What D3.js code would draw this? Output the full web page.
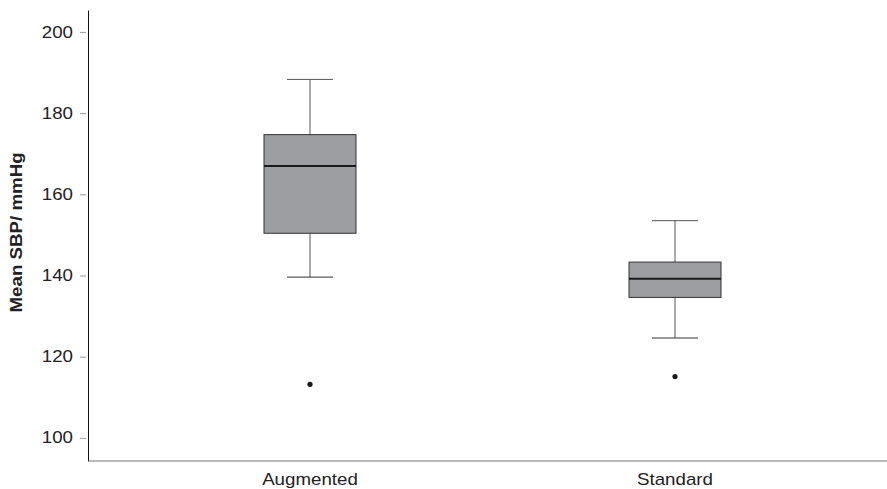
<!DOCTYPE html>
<html>
<head>
<meta charset="utf-8">
<script src="https://cdn.jsdelivr.net/npm/d3@7"></script>
<style>
  body { margin: 0; background: #fff; }
  svg { display: block; font-family: "Liberation Sans", Arial, sans-serif; }
</style>
</head>
<body>
<figure id="box" style="margin:0"></figure>
<script>
// Box-plot summary values
const groups = ['Augmented', 'Standard'];
const whiskerLow = [139.6, 124.6];
const q1 = [150.4, 134.6];
const median = [167.0, 139.2];
const q3 = [174.7, 143.3];
const whiskerHigh = [188.3, 153.5];
const outliers = [113.2, 115.1];
const yTicks = [100, 120, 140, 160, 180, 200];

const width = 887, height = 489;
const margin = { top: 10, right: 0, bottom: 28, left: 88 };
const fontSize = 16, stretch = 1.17; // text in the source is a bit wide

const svg = d3.select('figure#box')
  .append('svg')
  .attr('width', width)
  .attr('height', height);

// Scales
const y = d3.scaleLinear()
  .domain([94.3, 205.4])
  .range([height - margin.bottom, margin.top]);

const x = d3.scaleBand()
  .domain(groups)
  .range([127.5, 857.5]);

const boxW = 92, capW = 46;
const cx = (g) => x(g) + x.bandwidth() / 2;

// Y axis
const yAxis = svg.append('g')
  .attr('transform', 'translate(' + margin.left + ',0)')
  .call(d3.axisLeft(y).tickValues(yTicks).tickSize(6).tickSizeOuter(0));
yAxis.select('.domain').attr('stroke', '#111');
yAxis.selectAll('.tick line').attr('stroke', '#999').attr('transform', 'translate(-2,0)');
yAxis.selectAll('.tick text')
  .attr('font-size', fontSize).attr('fill', '#222')
  .attr('font-family', '"Liberation Sans", Arial, sans-serif')
  .attr('x', -15 / stretch)
  .attr('transform', 'scale(' + stretch + ',1)');

// X axis
const xAxis = svg.append('g')
  .attr('transform', 'translate(0,' + (height - margin.bottom) + ')')
  .call(d3.axisBottom(x).tickSize(0).tickPadding(13).tickSizeOuter(0));
xAxis.select('.domain').remove();
xAxis.selectAll('.tick text')
  .attr('font-size', fontSize).attr('fill', '#222')
  .attr('font-family', '"Liberation Sans", Arial, sans-serif')
  .attr('transform', 'scale(' + stretch + ',1)');
svg.append('line')
  .attr('x1', margin.left).attr('x2', width)
  .attr('y1', height - margin.bottom).attr('y2', height - margin.bottom)
  .attr('stroke', '#777');

// Y label
svg.append('text')
  .attr('transform', 'translate(22,' + y(150.6) + ') rotate(-90) scale(' + stretch + ',1)')
  .attr('text-anchor', 'middle')
  .attr('font-size', fontSize)
  .attr('font-weight', 'bold')
  .attr('fill', '#222')
  .text('Mean SBP/ mmHg');

// Boxes
const g = svg.selectAll('.box')
  .data(groups)
  .enter()
  .append('g')
  .attr('class', 'box');

// whisker stems
g.append('line')
  .attr('x1', cx).attr('x2', cx)
  .attr('y1', (d, i) => y(whiskerHigh[i]))
  .attr('y2', (d, i) => y(q3[i]))
  .attr('stroke', '#555');
g.append('line')
  .attr('x1', cx).attr('x2', cx)
  .attr('y1', (d, i) => y(q1[i]))
  .attr('y2', (d, i) => y(whiskerLow[i]))
  .attr('stroke', '#555');

// caps
g.append('line')
  .attr('x1', (d) => cx(d) - capW / 2).attr('x2', (d) => cx(d) + capW / 2)
  .attr('y1', (d, i) => y(whiskerHigh[i])).attr('y2', (d, i) => y(whiskerHigh[i]))
  .attr('stroke', '#555');
g.append('line')
  .attr('x1', (d) => cx(d) - capW / 2).attr('x2', (d) => cx(d) + capW / 2)
  .attr('y1', (d, i) => y(whiskerLow[i])).attr('y2', (d, i) => y(whiskerLow[i]))
  .attr('stroke', '#333');

// box body
g.append('rect')
  .attr('x', (d) => cx(d) - boxW / 2)
  .attr('width', boxW)
  .attr('y', (d, i) => y(q3[i]))
  .attr('height', (d, i) => y(q1[i]) - y(q3[i]))
  .attr('fill', '#9d9ea2')
  .attr('stroke', '#333');

// median
g.append('line')
  .attr('x1', (d) => cx(d) - boxW / 2).attr('x2', (d) => cx(d) + boxW / 2)
  .attr('y1', (d, i) => y(median[i])).attr('y2', (d, i) => y(median[i]))
  .attr('stroke', '#1a1a1a')
  .attr('stroke-width', 2);

// outliers
g.append('circle')
  .attr('cx', cx)
  .attr('cy', (d, i) => y(outliers[i]))
  .attr('r', 2.6)
  .attr('fill', '#1a1a1a');
</script>
</body>
</html>
